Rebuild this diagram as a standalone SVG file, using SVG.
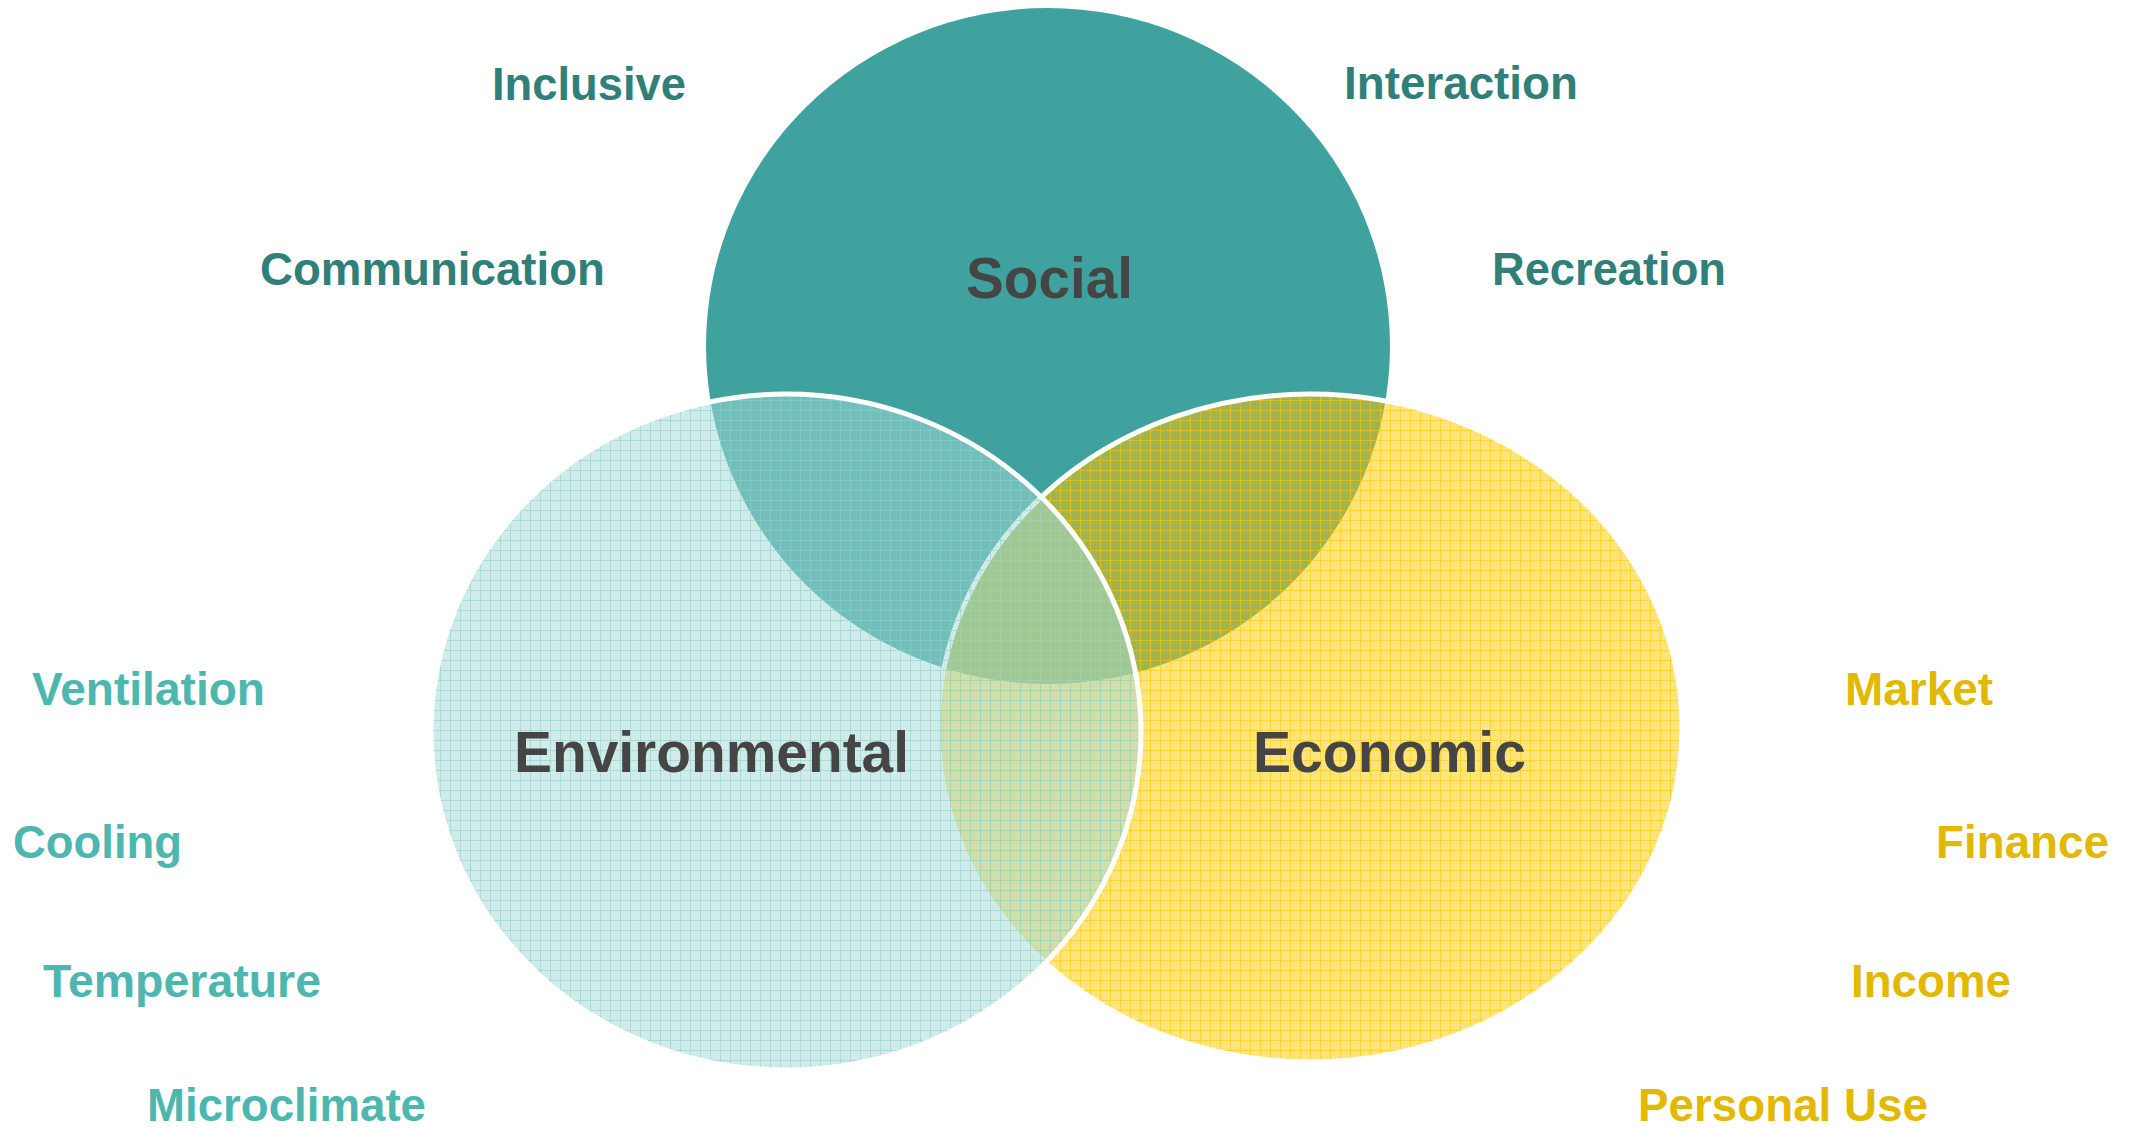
<svg xmlns="http://www.w3.org/2000/svg" width="2131" height="1128" viewBox="0 0 2131 1128">
<style>
text{font-family:"Liberation Sans",Arial,sans-serif;font-weight:bold}
.big{font-size:58px;fill:#454545}
.lbl{font-size:47px}
.soc{fill:#317F79}
.env{fill:#4DB7AF}
.eco{fill:#E2B900}
</style>
<defs>
<pattern id="gridEnv" patternUnits="userSpaceOnUse" width="10" height="10">
<path d="M0 .5H10M.5 0V10" stroke="#8FD0CA" stroke-width="1" stroke-opacity="0.6" fill="none"/>
</pattern>
<pattern id="gridEco" patternUnits="userSpaceOnUse" width="10" height="10">
<path d="M0 .5H10M.5 0V10" stroke="#FFC800" stroke-width="1" stroke-opacity="0.55" fill="none"/>
</pattern>
</defs>
<rect width="2131" height="1128" fill="#FFFFFF"/>
<g id="social">
<ellipse cx="1048" cy="346" rx="342" ry="338" fill="#40A29E"/>
<text class="big" x="966" y="298" textLength="167" lengthAdjust="spacingAndGlyphs">Social</text>
</g>
<g id="economic">
<ellipse cx="1310" cy="728" rx="372" ry="334" fill="#FFC800" fill-opacity="0.5"/>
<ellipse cx="1310" cy="728" rx="372" ry="334" fill="url(#gridEco)"/>
<ellipse cx="1310" cy="728" rx="372" ry="334" fill="none" stroke="#FFFFFF" stroke-width="5"/>
<text class="big" x="1253" y="772" textLength="273" lengthAdjust="spacingAndGlyphs">Economic</text>
</g>
<g id="environmental">
<ellipse cx="786" cy="732" rx="355" ry="338" fill="#A1D9D5" fill-opacity="0.5"/>
<ellipse cx="786" cy="732" rx="355" ry="338" fill="url(#gridEnv)"/>
<ellipse cx="786" cy="732" rx="355" ry="338" fill="none" stroke="#FFFFFF" stroke-width="5"/>
<text class="big" x="514" y="772" textLength="395" lengthAdjust="spacingAndGlyphs">Environmental</text>
</g>
<g id="social-terms">
<text class="lbl soc" x="492" y="100" textLength="194" lengthAdjust="spacingAndGlyphs">Inclusive</text>
<text class="lbl soc" x="260" y="285" textLength="345" lengthAdjust="spacingAndGlyphs">Communication</text>
<text class="lbl soc" x="1344" y="99" textLength="234" lengthAdjust="spacingAndGlyphs">Interaction</text>
<text class="lbl soc" x="1492" y="285" textLength="234" lengthAdjust="spacingAndGlyphs">Recreation</text>
</g>
<g id="environmental-terms">
<text class="lbl env" x="32" y="705" textLength="233" lengthAdjust="spacingAndGlyphs">Ventilation</text>
<text class="lbl env" x="13" y="858" textLength="169" lengthAdjust="spacingAndGlyphs">Cooling</text>
<text class="lbl env" x="43" y="997" textLength="278" lengthAdjust="spacingAndGlyphs">Temperature</text>
<text class="lbl env" x="147" y="1121" textLength="279" lengthAdjust="spacingAndGlyphs">Microclimate</text>
</g>
<g id="economic-terms">
<text class="lbl eco" x="1845" y="705" textLength="148" lengthAdjust="spacingAndGlyphs">Market</text>
<text class="lbl eco" x="1936" y="858" textLength="173" lengthAdjust="spacingAndGlyphs">Finance</text>
<text class="lbl eco" x="1851" y="997" textLength="160" lengthAdjust="spacingAndGlyphs">Income</text>
<text class="lbl eco" x="1638" y="1121" textLength="290" lengthAdjust="spacingAndGlyphs">Personal Use</text>
</g>
</svg>
